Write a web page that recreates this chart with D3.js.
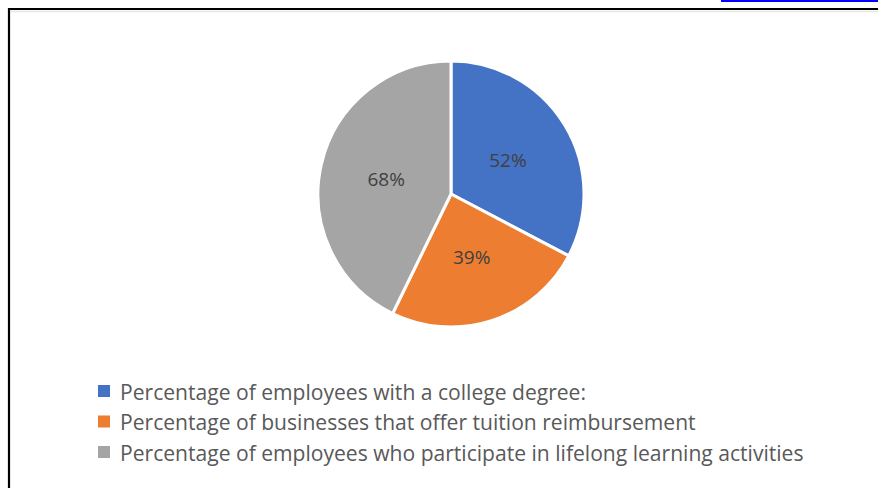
<!DOCTYPE html>
<html>
<head>
<meta charset="utf-8">
<script src="https://cdn.jsdelivr.net/npm/d3@7"></script>
<style>
  html, body { margin: 0; padding: 0; background: #fff; }
  svg { display: block; }
</style>
</head>
<body>
<div class="pie-viz"></div>
<script>
const WIDTH = 878,
    HEIGHT = 488;

// chart data
const categories = [
    "Percentage of employees with a college degree:",
    "Percentage of businesses that offer tuition reimbursement",
    "Percentage of employees who participate in lifelong learning activities"
];
const values = [52, 39, 68];
const labels = ["52%", "39%", "68%"];
const colors = ["#4472C4", "#ED7D31", "#A5A5A5"];

const CX = 451, CY = 194, RADIUS = 133;

const svg = d3.select(".pie-viz")
    .append("svg")
    .attr("width", WIDTH)
    .attr("height", HEIGHT);

// link underline at the very top, and the frame
svg.append("line")
    .attr("x1", 721).attr("x2", WIDTH)
    .attr("y1", 1).attr("y2", 1)
    .attr("stroke", "#0000ff")
    .attr("stroke-width", 2);

svg.append("path")
    .attr("d", `M9,${HEIGHT + 2} V9 H${WIDTH + 2}`)
    .attr("fill", "none")
    .attr("stroke", "#000")
    .attr("stroke-width", 2.2);
svg.append("line")
    .attr("x1", 10).attr("x2", WIDTH)
    .attr("y1", 11.5).attr("y2", 11.5)
    .attr("stroke", "#e6e6e6")
    .attr("stroke-width", 1.5);

const pie = d3.pie().sort(null).value(d => d)(values);
const arc = d3.arc().innerRadius(0).outerRadius(RADIUS);

const g = svg.append("g")
    .attr("transform", `translate(${CX}, ${CY})`);

g.selectAll("path.slice")
    .data(pie)
    .join("path")
    .attr("class", "slice")
    .attr("d", arc)
    .attr("fill", (d, i) => colors[i])
    .attr("stroke", "#fff")
    .attr("stroke-width", 3)
    .attr("stroke-linejoin", "round");

g.selectAll("text.label")
    .data(pie)
    .join("text")
    .attr("class", "label")
    .attr("x", d => arc.centroid(d)[0])
    .attr("y", d => arc.centroid(d)[1])
    .attr("text-anchor", "middle")
    .attr("dominant-baseline", "central")
    .style("font-family", "'Open Sans', 'Noto Sans', sans-serif")
    .style("font-size", "19px")
    .style("fill", "#404040")
    .text((d, i) => labels[i]);

// legend
const legend = svg.append("g").attr("class", "legend");
const rowY = d3.scalePoint().domain(d3.range(categories.length)).range([391, 452]);

legend.selectAll("rect")
    .data(categories)
    .join("rect")
    .attr("x", 98)
    .attr("y", (d, i) => rowY(i) - 6)
    .attr("width", 12)
    .attr("height", 12)
    .attr("fill", (d, i) => colors[i]);

const items = legend.selectAll("text")
    .data(categories)
    .join("text")
    .attr("x", 120)
    .attr("y", (d, i) => rowY(i))
    .attr("dominant-baseline", "central")
    .style("font-family", "'Open Sans', 'Noto Sans', sans-serif")
    .style("font-size", "20px")
    .style("fill", "#595959")
    .text(d => d);

// fit the longest row to the width in the picture
const longest = items.nodes()[2].getComputedTextLength();
items.style("font-size", (20 * 684 / longest).toFixed(2) + "px");
</script>
</body>
</html>
